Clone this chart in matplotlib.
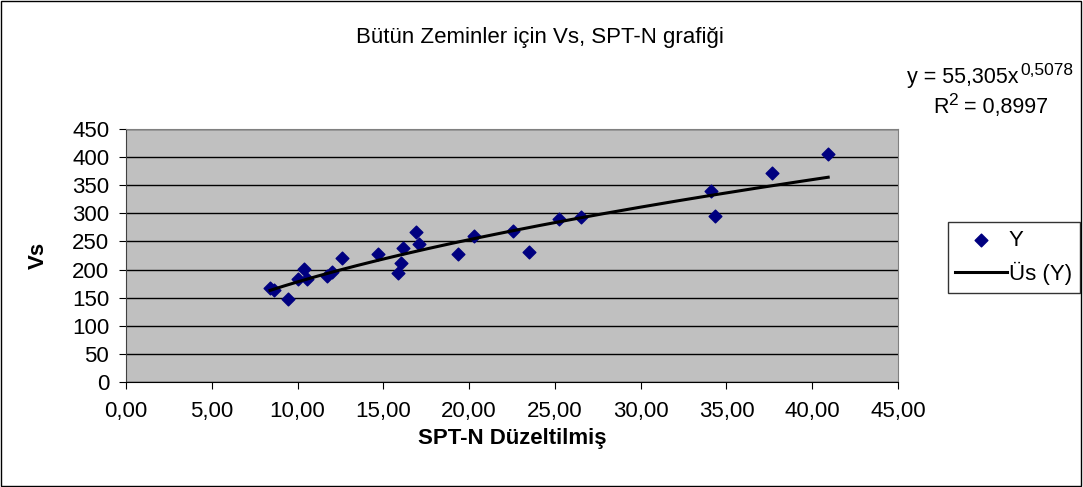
import numpy as np
import matplotlib.pyplot as plt
from matplotlib.patches import Rectangle

plt.rcParams['font.family'] = ['Liberation Sans', 'DejaVu Sans']

# data
spt_n = [8.4, 8.6, 9.46, 10.04, 10.39, 10.57, 11.73, 11.99, 12.57, 14.7,
         15.87, 16.06, 16.16, 16.88, 17.09, 19.33, 20.28, 22.57, 23.5,
         25.23, 26.5, 34.09, 34.32, 37.63, 40.93]
vs = [168, 163, 147, 183, 201, 184, 188, 196, 221, 227,
      194, 212, 239, 266, 246, 227, 260, 269, 231,
      290, 293, 340, 296, 372, 405]

# power trendline coefficients shown on the chart
coef_a = 55.305
coef_b = 0.5078

fs = 16

fig = plt.figure(figsize=(10.83, 4.87), dpi=100)
ax = fig.add_axes([0.1163, 0.2156, 0.7129, 0.5195])
ax.set_facecolor('#C0C0C0')

ax.scatter(spt_n, vs, marker='D', s=42, color='#000080', zorder=3, label='Y')
xs = np.linspace(min(spt_n), max(spt_n), 200)
ax.plot(xs, coef_a * xs ** coef_b, color='black', lw=2.2, zorder=4, label='Üs (Y)')

ax.set_xlim(0, 45)
ax.set_ylim(0, 450)
ax.set_xticks(np.arange(0, 46, 5))
ax.set_xticklabels([f'{v:.2f}'.replace('.', ',') for v in np.arange(0, 46, 5)])
ax.set_yticks(np.arange(0, 451, 50))
ax.yaxis.grid(True, color='black', lw=1)
ax.set_axisbelow(True)
ax.tick_params(direction='out', length=5, labelsize=fs, colors='black')
ax.tick_params(axis='x', pad=9)
ax.tick_params(axis='y', pad=7)

for side in ['top', 'right']:
    ax.spines[side].set_color('#808080')
ax.spines['left'].set_color('#404040')
ax.spines['bottom'].set_color('black')

ax.set_xlabel('SPT-N Düzeltilmiş', fontsize=fs, fontweight='bold')
ax.set_ylabel('Vs', fontsize=fs, fontweight='bold')
ax.xaxis.set_label_coords(0.5, -0.222)
ax.xaxis.label.set_va('center')
ax.yaxis.set_label_coords(-0.114, 0.5)
ax.yaxis.label.set_va('center')

fig.text(0.4986, 0.924, 'Bütün Zeminler için Vs, SPT-N grafiği', ha='center',
         va='center', fontsize=fs)
# trendline equation, superscripts drawn as their own texts
fig.text(0.940, 0.8296, 'y = 55,305x', ha='right', va='baseline', fontsize=15.5)
fig.text(0.9418, 0.846, '0,5078', ha='left', va='baseline', fontsize=12.5)
fig.text(0.8615, 0.768, 'R', ha='left', va='baseline', fontsize=15.5)
fig.text(0.8755, 0.785, '2', ha='left', va='baseline', fontsize=12.5)
fig.text(0.8905, 0.768, '= 0,8997', ha='left', va='baseline', fontsize=15.5)

leg = ax.legend(loc='center left', bbox_to_anchor=(0.875, 0.472),
                bbox_transform=fig.transFigure, fontsize=fs, frameon=True,
                fancybox=False, edgecolor='black', handlelength=2.3,
                handletextpad=0.1, borderpad=0.35, labelspacing=0.5,
                borderaxespad=0)
leg.get_frame().set_linewidth(1)

fig.patches.append(Rectangle((0.001, 0.002), 0.997, 0.995, transform=fig.transFigure,
                             fill=False, edgecolor='black', lw=1))

fig.savefig('out.png', dpi=100)
